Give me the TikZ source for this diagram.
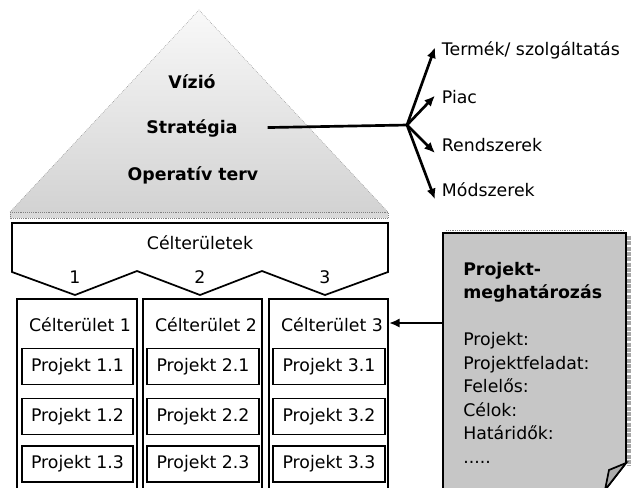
\documentclass[tikz,border=0pt]{standalone}
\usepackage{fontspec}
\setmainfont{DejaVu Sans}
\usetikzlibrary{arrows.meta}

\begin{document}
\begin{tikzpicture}[x=0.75pt,y=-0.75pt,
  lbl/.style={font=\fontsize{13}{15}\selectfont,inner sep=1pt},
  pyr/.style={font=\fontsize{13}{15}\selectfont\bfseries},
  col/.style={draw,line width=1.3pt,minimum width=89.5pt,minimum height=147pt},
  proj/.style={draw,line width=1.3pt,minimum width=83.5pt,minimum height=27pt,font=\fontsize{13}{15}\selectfont},
  arr/.style={line width=2pt,-{Latex[length=8pt,width=7pt]}}]
\clip (0,0) rectangle (632,487);
% pyramid
\shade[top color=gray!5,bottom color=gray!35] (199,10) -- (388,212) -- (10,212) -- cycle;
\draw[gray,densely dotted] (10,212) -- (199,10) -- (388,212);
\filldraw[draw=gray,fill=gray!30,densely dotted] (10,212) rectangle (388,218);
\node[pyr] (vizio) at (192,82) {Vízió};
\node[pyr] (strategia) at (192,128) {Stratégia};
\node[pyr] (operativ) at (193,175) {Operatív terv};

% branches
\coordinate (hub) at (407,125);
\node[lbl,inner sep=5pt,anchor=west] (termek) at (435,50) {Termék/ szolgáltatás};
\node[lbl,inner sep=5pt,anchor=west] (piac) at (435,97) {Piac};
\node[lbl,inner sep=5pt,anchor=west] (rendszer) at (435,145) {Rendszerek};
\node[lbl,inner sep=5pt,anchor=west] (modszer) at (435,190) {Módszerek};
\draw[line width=2pt,shorten <=19pt] (strategia.east) -- (hub);
\draw[arr] (hub) -- ([yshift=2pt]termek.west);
\draw[arr] (hub) -- ([yshift=1pt]piac.west);
\draw[arr] (hub) -- ([yshift=-6pt]rendszer.west);
\draw[arr] (hub) -- ([yshift=-7pt]modszer.west);

% target areas
\draw[line width=1.3pt,fill=white] (12,223) -- (388,223) -- (388,272) -- (325,295) -- (262,271)
  -- (200,295) -- (137,271) -- (75,295) -- (12,272) -- cycle;
\node[lbl] (celter) at (200,243) {Célterületek};
\node[lbl] (n1) at (75,277) {1};
\node[lbl] (n2) at (200,277) {2};
\node[lbl] (n3) at (325,277) {3};

\node[col] (col1) at (77,397) {};
\node[col] (col2) at (202.5,397) {};
\node[col] (col3) at (328.5,397) {};
\node[lbl] (cel1) at (80,325) {Célterület 1};
\node[lbl] (cel2) at (206,325) {Célterület 2};
\node[lbl] (cel3) at (332,325) {Célterület 3};

\node[proj] (p11) at (77.5,366.5) {Projekt 1.1};
\node[proj] (p12) at (77.5,416.5) {Projekt 1.2};
\node[proj] (p13) at (77.5,464) {Projekt 1.3};
\node[proj] (p21) at (203,366.5) {Projekt 2.1};
\node[proj] (p22) at (203,416.5) {Projekt 2.2};
\node[proj] (p23) at (203,464) {Projekt 2.3};
\node[proj] (p31) at (329,366.5) {Projekt 3.1};
\node[proj] (p32) at (329,416.5) {Projekt 3.2};
\node[proj] (p33) at (329,464) {Projekt 3.3};

% project sheet
\draw[gray,densely dotted] (446,230) -- (624,230);
\draw[gray!70,line width=3pt,densely dotted] (629,236) -- (629,466);
\filldraw[fill=gray!45,line width=1.3pt] (443,233) -- (626,233) -- (626,463) -- (605,490) -- (443,490) -- cycle;
\filldraw[fill=gray!65,line width=1.3pt] (605,490) -- (609,470) -- (626,463) -- cycle;
\node[lbl,inner sep=0pt,anchor=north west,align=left,font=\fontsize{13}{17.6}\selectfont]
  (meghat) at (463,262) {\textbf{Projekt-}\\\textbf{meghatározás}\\[17.6pt]Projekt:\\Projektfeladat:\\Felelős:\\Célok:\\Határidők:\\.....};
\coordinate (docw) at (443,323);
\draw[arr] (docw) -- (col3.east |- docw);
\end{tikzpicture}
\end{document}
